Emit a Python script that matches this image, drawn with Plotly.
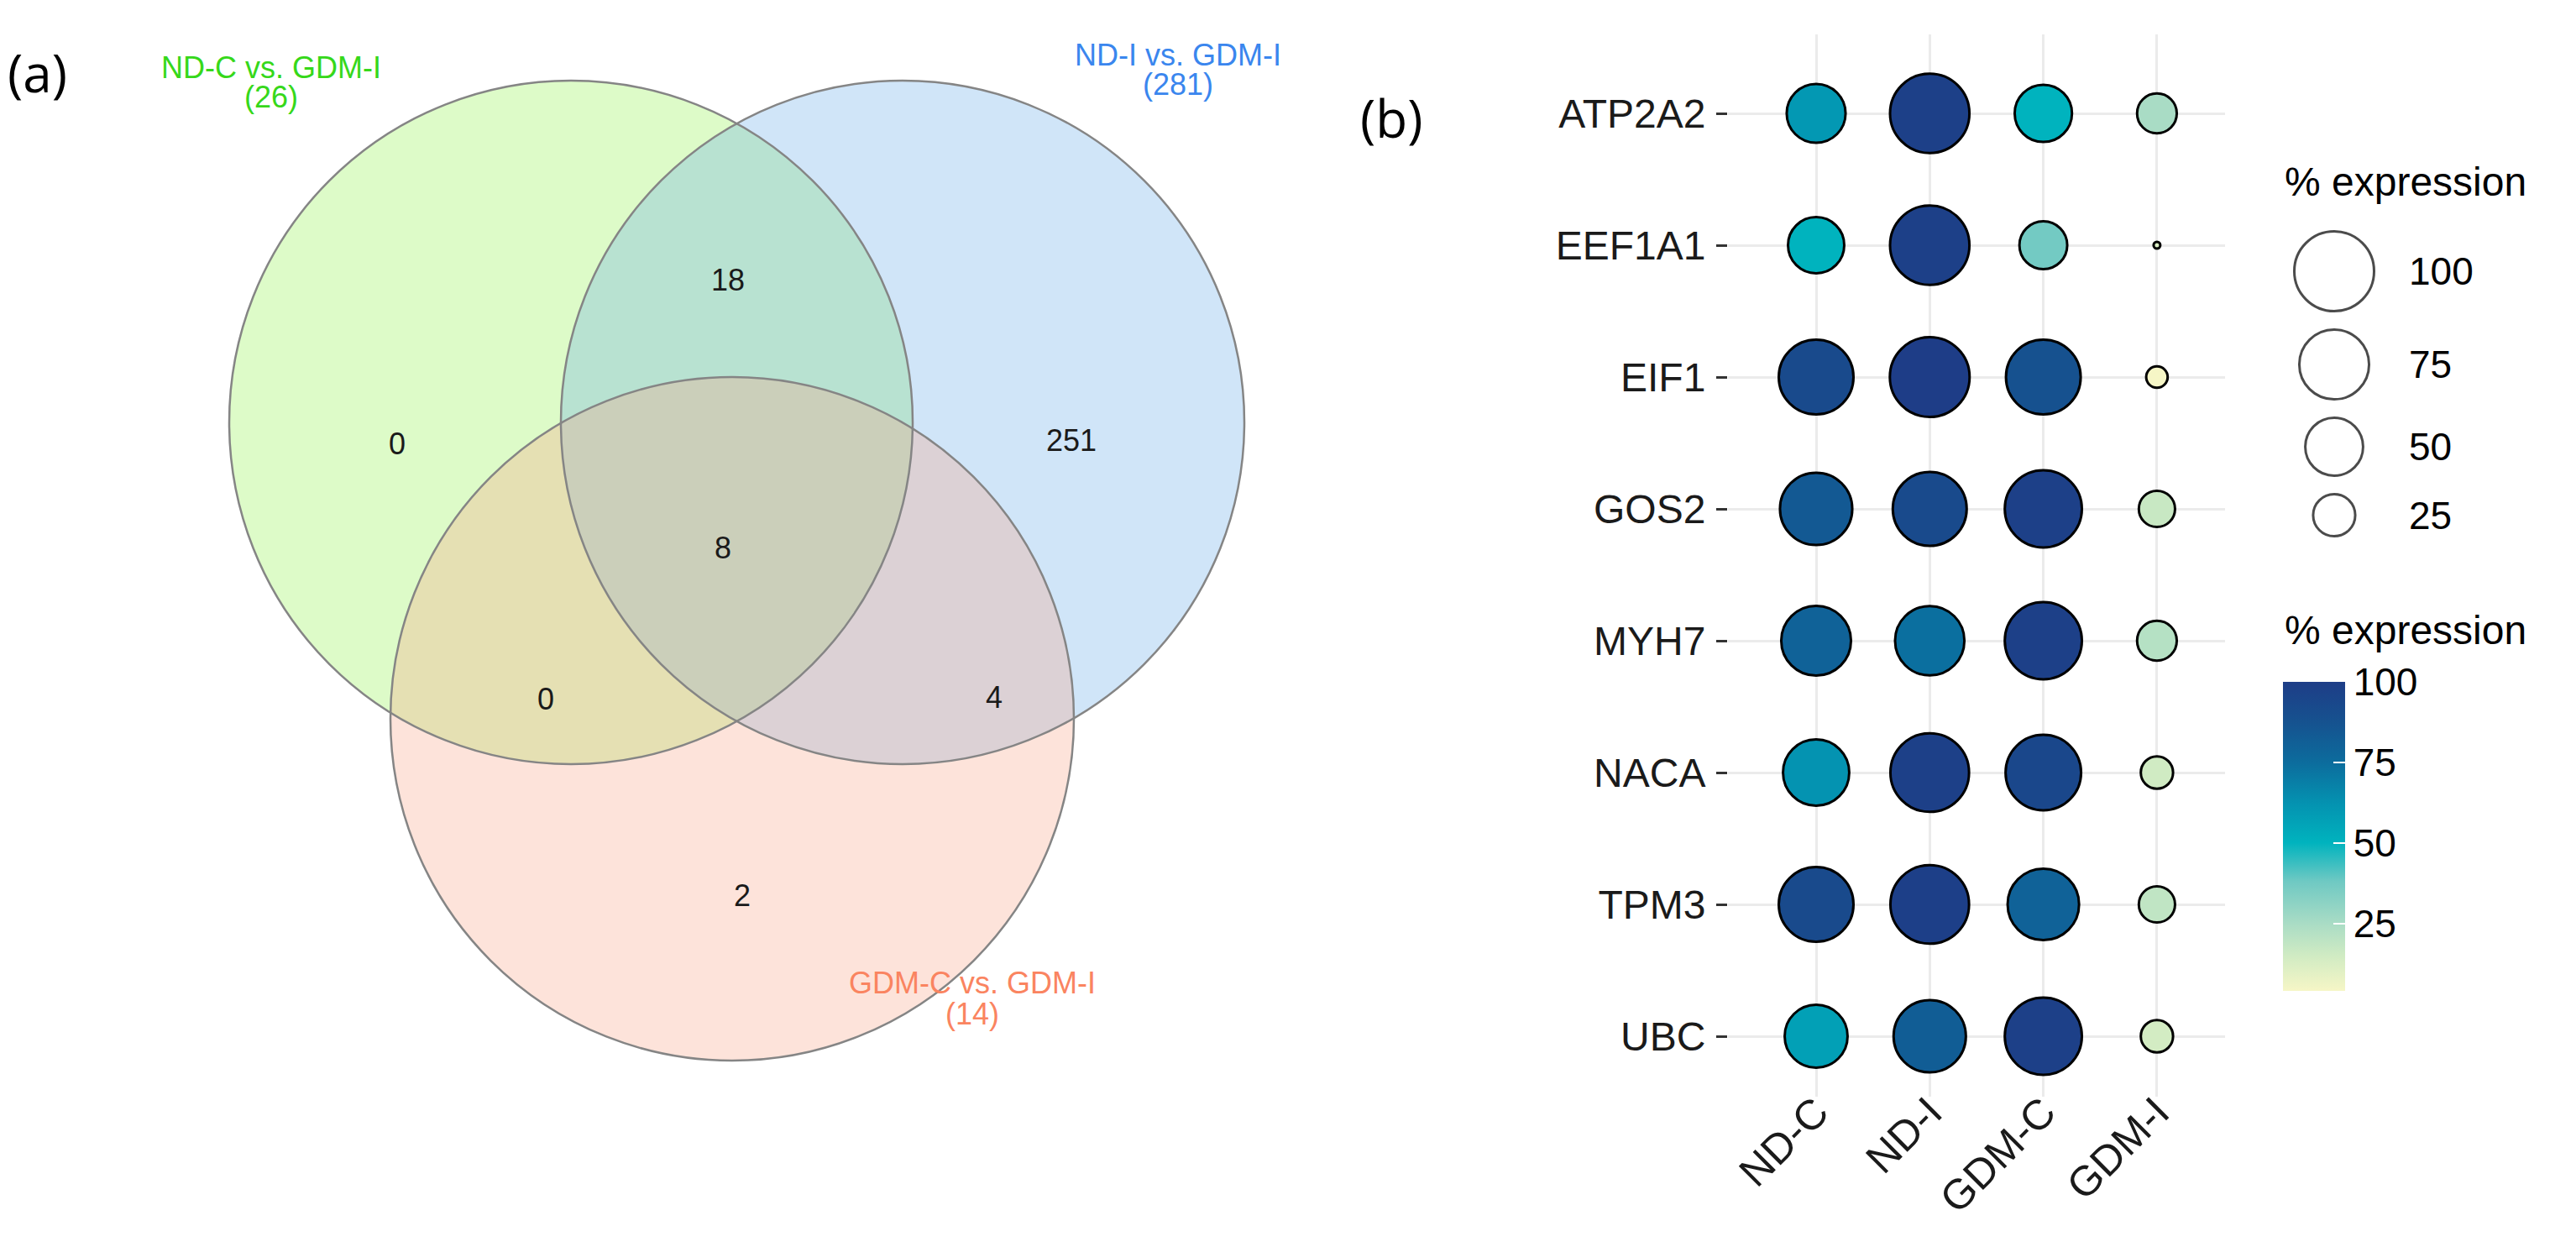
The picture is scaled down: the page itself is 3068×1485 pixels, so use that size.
import numpy as np
import plotly.graph_objects as go

# ---------------- data ----------------
genes = ["ATP2A2", "EEF1A1", "EIF1", "GOS2", "MYH7", "NACA", "TPM3", "UBC"]
groups = ["ND-C", "ND-I", "GDM-C", "GDM-I"]

# % expression shown by dot size (rows = genes, columns = groups)
size_pct = [
    [52, 99, 49, 22],
    [47, 99, 33, 2],
    [87, 100, 87, 6],
    [81, 85, 93, 18],
    [75, 74, 93, 22],
    [67, 97, 89, 14],
    [87, 97, 79, 18],
    [60, 81, 93, 14],
]
# % expression shown by dot colour
color_pct = [
    [60, 98, 50, 25],
    [50, 98, 37, 12],
    [92, 100, 88, 4],
    [84, 92, 98, 17],
    [80, 74, 98, 22],
    [62, 98, 94, 15],
    [92, 99, 80, 19],
    [57, 82, 98, 14],
]
size_breaks = [100, 75, 50, 25]
color_breaks = [25, 50, 75, 100]

venn_sets = ["ND-C vs. GDM-I", "ND-I vs. GDM-I", "GDM-C vs. GDM-I"]
venn_totals = [26, 281, 14]
venn_regions = ["A", "AB", "B", "ABC", "AC", "BC", "C"]
venn_counts = [0, 18, 251, 8, 0, 4, 2]

# ---------------- layout / style ----------------
W, H = 3068, 1485
ARIAL = "Liberation Sans, Arial, sans-serif"
PANEL_FONT = "Open Sans, sans-serif"

venn_centers = [(680, 503), (1075, 503), (872, 856)]
venn_r = 407
venn_fill = ["rgba(142,242,72,0.30)", "rgba(100,168,232,0.30)", "rgba(248,162,132,0.30)"]
venn_label_col = ["#36D81A", "#3A86EE", "#FA8460"]
venn_label_pos = [(323, 80, 115), (1403, 65, 100), (1158, 1170, 1207)]
venn_region_pos = {"A": (473, 528), "AB": (867, 333), "B": (1276, 524), "ABC": (861, 652),
                   "AC": (650, 832), "BC": (1184, 830), "C": (884, 1066)}

# dot plot panel (pixels)
PX0, PX1, PY0, PY1 = 2058, 2650, 41, 1306
COL0, ROW0, COL_STEP, ROW_STEP = 2163, 135, 135.3, 157.0
R_MIN, R_MAX, LW = 5.5, 49.0, 3

colorstops = [(3, "#F6F6C6"), (15, "#D0EBC3"), (25, "#A9DCC5"), (38, "#6FC9C3"),
              (50, "#00B3BE"), (62, "#0493B1"), (75, "#0C6C9D"), (88, "#16518F"), (100, "#1E3D87")]

# ---------------- build ----------------
xs, ys, sz, cl = [], [], [], []
for i, g in enumerate(genes):
    for j, grp in enumerate(groups):
        xs.append(grp)
        ys.append(g)
        sz.append(size_pct[i][j])
        cl.append(color_pct[i][j])

lo, hi = min(sz), max(sz)


def dot_diam(v):
    r = R_MIN + (R_MAX - R_MIN) * np.sqrt((np.asarray(v, float) - lo) / (hi - lo))
    return 2 * r - LW


cmin, cmax = min(cl), max(cl)
colorscale = [[min(max((v - cmin) / (cmax - cmin), 0), 1), c] for v, c in colorstops]
colorscale[0][0] = 0.0
colorscale[-1][0] = 1.0

CB_TOP, CB_BOT = 812, 1180

fig = go.Figure()

fig.add_trace(go.Scatter(
    x=xs, y=ys, mode="markers", xaxis="x2", yaxis="y2", showlegend=False, hoverinfo="skip",
    marker=dict(
        size=dot_diam(sz), color=cl, colorscale=colorscale, cmin=cmin, cmax=cmax,
        line=dict(color="black", width=LW), opacity=1,
        colorbar=dict(
            thickness=74, thicknessmode="pixels", len=CB_BOT - CB_TOP, lenmode="pixels",
            x=2719 / W, xanchor="left", y=1 - CB_TOP / H, yanchor="top",
            xpad=0, ypad=0, outlinewidth=0,
            tickvals=color_breaks, ticks="inside", ticklen=14, tickwidth=2, tickcolor="white",
            tickfont=dict(family=ARIAL, size=46, color="black"),
        ),
    ),
))

# size legend (uses same size scale)
leg_x = 2780
leg_y0 = 323
GAP = 19
leg_r = [(d + LW) / 2 for d in dot_diam(size_breaks)]
leg_y = [leg_y0]
for k in range(1, len(size_breaks)):
    leg_y.append(leg_y[-1] + leg_r[k - 1] + leg_r[k] + GAP)
fig.add_trace(go.Scatter(
    x=[leg_x] * len(size_breaks), y=leg_y, mode="markers", xaxis="x", yaxis="y",
    showlegend=False, hoverinfo="skip",
    marker=dict(size=dot_diam(size_breaks), color="white", line=dict(color="black", width=LW)),
))

annotations = []
for v, yy in zip(size_breaks, leg_y):
    annotations.append(dict(x=2867, y=yy, xref="x", yref="y", text=str(v), showarrow=False,
                            xanchor="left", yanchor="middle",
                            font=dict(family=ARIAL, size=46, color="black")))
annotations.append(dict(x=2719, y=216, xref="x", yref="y", text="% expression", showarrow=False,
                        xanchor="left", yanchor="middle", font=dict(family=ARIAL, size=48, color="black")))
annotations.append(dict(x=2719, y=750, xref="x", yref="y", text="% expression", showarrow=False,
                        xanchor="left", yanchor="middle", font=dict(family=ARIAL, size=48, color="black")))

# panel labels
annotations.append(dict(x=44, y=86, xref="x", yref="y", text="(a)", showarrow=False,
                        xanchor="center", yanchor="middle", font=dict(family=PANEL_FONT, size=62, color="black")))
annotations.append(dict(x=1657, y=140, xref="x", yref="y", text="(b)", showarrow=False,
                        xanchor="center", yanchor="middle", font=dict(family=PANEL_FONT, size=62, color="black")))

# venn
shapes = []
for (cx, cy), fc in zip(venn_centers, venn_fill):
    shapes.append(dict(type="circle", xref="x", yref="y", x0=cx - venn_r, x1=cx + venn_r,
                       y0=cy - venn_r, y1=cy + venn_r, fillcolor=fc, line=dict(width=0), layer="below"))
for (cx, cy) in venn_centers:
    shapes.append(dict(type="circle", xref="x", yref="y", x0=cx - venn_r, x1=cx + venn_r,
                       y0=cy - venn_r, y1=cy + venn_r, fillcolor="rgba(0,0,0,0)",
                       line=dict(color="#858585", width=2.5), layer="below"))

for name, tot, col, (lx, ly1, ly2) in zip(venn_sets, venn_totals, venn_label_col, venn_label_pos):
    annotations.append(dict(x=lx, y=ly1, xref="x", yref="y", text=name, showarrow=False,
                            xanchor="center", yanchor="middle", font=dict(family=ARIAL, size=36, color=col)))
    annotations.append(dict(x=lx, y=ly2, xref="x", yref="y", text=f"({tot})", showarrow=False,
                            xanchor="center", yanchor="middle", font=dict(family=ARIAL, size=36, color=col)))
for key, cnt in zip(venn_regions, venn_counts):
    px, py = venn_region_pos[key]
    annotations.append(dict(x=px, y=py, xref="x", yref="y", text=str(cnt), showarrow=False,
                            xanchor="center", yanchor="middle", font=dict(family=ARIAL, size=36, color="#1a1a1a")))

xr = [-(COL0 - PX0) / COL_STEP, len(groups) - 1 + (PX1 - (COL0 + (len(groups) - 1) * COL_STEP)) / COL_STEP]
yr = [len(genes) - 1 + (PY1 - (ROW0 + (len(genes) - 1) * ROW_STEP)) / ROW_STEP, -(ROW0 - PY0) / ROW_STEP]

fig.update_layout(
    width=W, height=H, margin=dict(l=0, r=0, t=0, b=0),
    paper_bgcolor="white", plot_bgcolor="rgba(0,0,0,0)",
    showlegend=False,
    xaxis=dict(domain=[0, 1], range=[0, W], visible=False, fixedrange=True),
    yaxis=dict(domain=[0, 1], range=[H, 0], visible=False, fixedrange=True),
    xaxis2=dict(domain=[PX0 / W, PX1 / W], anchor="y2", type="category", categoryorder="array",
                categoryarray=groups, range=xr, showgrid=True, gridcolor="#EBEBEB",
                gridwidth=3, zeroline=False, showline=False, ticks="", tickangle=-45,
                tickfont=dict(family=ARIAL, size=50, color="#1a1a1a"), ticklabelstandoff=-22),
    yaxis2=dict(domain=[1 - PY1 / H, 1 - PY0 / H], anchor="x2", type="category", categoryorder="array",
                categoryarray=genes, range=yr, showgrid=True, gridcolor="#EBEBEB",
                gridwidth=3, zeroline=False, showline=False, ticks="outside", ticklen=13, tickwidth=3,
                tickcolor="#333333", tickfont=dict(family=ARIAL, size=48, color="#1a1a1a"),
                ticklabelstandoff=3),
    shapes=shapes,
    annotations=annotations,
)

fig.write_html("out.html", config={"displayModeBar": False},
               post_script="document.body.style.margin='0';document.body.style.overflow='hidden';")
